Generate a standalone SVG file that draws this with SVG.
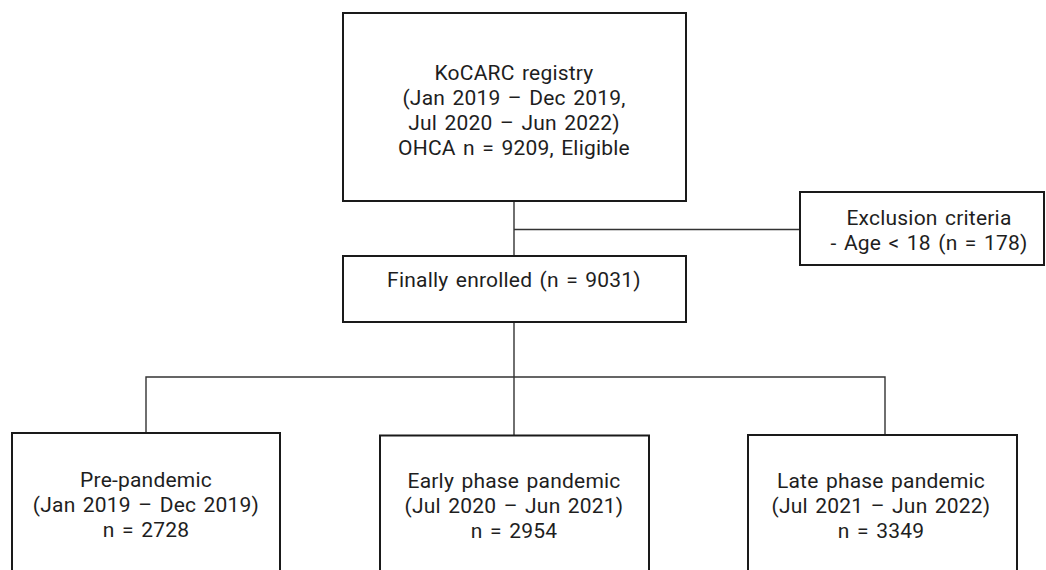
<svg xmlns="http://www.w3.org/2000/svg" width="1046" height="570" viewBox="0 0 1046 570">
<style>
.box{fill:#fff;stroke:#1a1a1a;stroke-width:2}
.t{font-family:Roboto,"Open Sans",sans-serif;font-size:21px;word-spacing:2px;letter-spacing:0.2px;fill:#1e1e1e;text-anchor:middle}
.c{fill:none;stroke:#333;stroke-width:1.4}
</style>
<rect width="1046" height="570" fill="#fff"/>
<g id="connectors">
<line class="c" x1="514" y1="201" x2="514" y2="256"/>
<line class="c" x1="514" y1="229.5" x2="800" y2="229.5"/>
<line class="c" x1="514" y1="322" x2="514" y2="435"/>
<polyline class="c" points="146,433 146,377 885,377 885,435"/>
</g>
<g id="registry">
<rect class="box" x="343" y="13" width="343" height="188"/>
<text class="t" x="514" y="80">KoCARC registry</text>
<text class="t" x="514" y="105">(Jan 2019 – Dec 2019,</text>
<text class="t" x="514" y="129.5">Jul 2020 – Jun 2022)</text>
<text class="t" x="514" y="154.5">OHCA n = 9209, Eligible</text>
</g>
<g id="exclusion">
<rect class="box" x="800" y="192" width="244" height="73"/>
<text class="t" x="929" y="225">Exclusion criteria</text>
<text class="t" x="929" y="250">- Age &lt; 18 (n = 178)</text>
</g>
<g id="enrolled">
<rect class="box" x="343" y="256" width="343" height="66"/>
<text class="t" x="514" y="286.5">Finally enrolled (n = 9031)</text>
</g>
<g id="pre">
<rect class="box" x="12" y="433" width="268" height="150"/>
<text class="t" x="146" y="487">Pre-pandemic</text>
<text class="t" x="146" y="512">(Jan 2019 – Dec 2019)</text>
<text class="t" x="146" y="537">n = 2728</text>
</g>
<g id="early">
<rect class="box" x="380" y="435.5" width="269" height="150"/>
<text class="t" x="514" y="487.5">Early phase pandemic</text>
<text class="t" x="514" y="512.5">(Jul 2020 – Jun 2021)</text>
<text class="t" x="514" y="537.5">n = 2954</text>
</g>
<g id="late">
<rect class="box" x="748" y="435" width="269" height="150"/>
<text class="t" x="881" y="487.5">Late phase pandemic</text>
<text class="t" x="881" y="512.5">(Jul 2021 – Jun 2022)</text>
<text class="t" x="881" y="537.5">n = 3349</text>
</g>
</svg>
